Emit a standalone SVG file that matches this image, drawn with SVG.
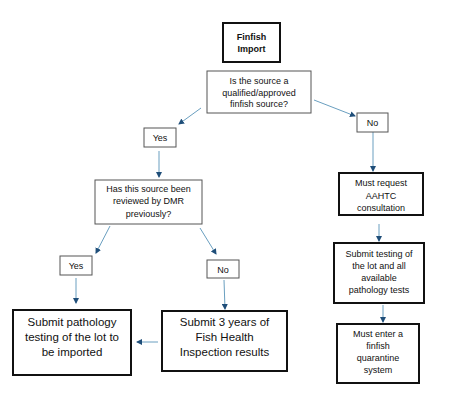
<svg xmlns="http://www.w3.org/2000/svg" width="450" height="413" viewBox="0 0 450 413">
<defs>
<marker id="ah" markerWidth="6" markerHeight="6" refX="5" refY="3" orient="auto" markerUnits="userSpaceOnUse">
<path d="M0,0 L6,3 L0,6 Z" fill="#1f4e79"/>
</marker>
<style>
.t{font-family:"Liberation Sans",Arial,sans-serif;fill:#111;text-anchor:middle}
.s{font-size:9px}
.b{font-size:11.5px}
.thin{fill:#fff;stroke:#555;stroke-width:1}
.thick{fill:#fff;stroke:#111;stroke-width:2}
.c{stroke:#6a9fc0;stroke-width:1;fill:none;marker-end:url(#ah)}
</style>
</defs>
<rect width="450" height="413" fill="#fff"/>
<g id="connectors">
<line class="c" x1="201" y1="108" x2="179" y2="124"/>
<line class="c" x1="314" y1="100" x2="355" y2="116"/>
<line class="c" x1="159" y1="151" x2="159" y2="177"/>
<line class="c" x1="110" y1="226" x2="96" y2="253"/>
<line class="c" x1="200" y1="228" x2="216" y2="254"/>
<line class="c" x1="76" y1="278" x2="76" y2="303"/>
<line class="c" x1="224" y1="280" x2="225" y2="309"/>
<line class="c" x1="158" y1="342" x2="137" y2="342"/>
<line class="c" x1="373" y1="132" x2="373" y2="171"/>
<line class="c" x1="379" y1="224" x2="379" y2="241"/>
<line class="c" x1="383" y1="305" x2="383" y2="322"/>
</g>
<g id="finfish-import">
<rect class="thick" x="223" y="23" width="57" height="39"/>
<text class="t s" font-weight="bold" x="251.5" y="40">Finfish</text>
<text class="t s" font-weight="bold" x="251.5" y="52">Import</text>
</g>
<g id="q1">
<rect class="thin" x="207" y="71" width="104" height="42"/>
<text class="t s" x="259" y="84">Is the source a</text>
<text class="t s" x="259" y="96">qualified/approved</text>
<text class="t s" x="259" y="107">finfish source?</text>
</g>
<g id="yes1">
<rect class="thin" x="144" y="128" width="32" height="19"/>
<text class="t s" x="160" y="141">Yes</text>
</g>
<g id="no1">
<rect class="thin" x="357" y="113" width="31" height="19"/>
<text class="t s" x="372.5" y="126">No</text>
</g>
<g id="q2">
<rect class="thin" x="95" y="180" width="107" height="44"/>
<text class="t s" x="148.5" y="192">Has this source been</text>
<text class="t s" x="148.5" y="204">reviewed by DMR</text>
<text class="t s" x="148.5" y="217">previously?</text>
</g>
<g id="yes2">
<rect class="thin" x="60" y="256" width="32" height="19"/>
<text class="t s" x="76" y="269">Yes</text>
</g>
<g id="no2">
<rect class="thin" x="207" y="260" width="32" height="18"/>
<text class="t s" x="223" y="272.5">No</text>
</g>
<g id="submit-pathology">
<rect class="thick" x="13" y="310" width="118" height="65"/>
<text class="t b" x="72" y="326">Submit pathology</text>
<text class="t b" x="72" y="341">testing of the lot to</text>
<text class="t b" x="72" y="356">be imported</text>
</g>
<g id="submit-3-years">
<rect class="thick" x="162" y="311" width="125" height="60"/>
<text class="t b" x="224.5" y="326">Submit 3 years of</text>
<text class="t b" x="224.5" y="341">Fish Health</text>
<text class="t b" x="224.5" y="356">Inspection results</text>
</g>
<g id="must-request">
<rect class="thick" x="339" y="173" width="84" height="42"/>
<text class="t s" x="381" y="186">Must request</text>
<text class="t s" x="381" y="199">AAHTC</text>
<text class="t s" x="381" y="211">consultation</text>
</g>
<g id="submit-testing">
<rect class="thick" x="334" y="243" width="90" height="60"/>
<text class="t s" x="379" y="257">Submit testing of</text>
<text class="t s" x="379" y="269">the lot and all</text>
<text class="t s" x="379" y="281">available</text>
<text class="t s" x="379" y="293">pathology tests</text>
</g>
<g id="must-enter">
<rect class="thick" x="337" y="324" width="82" height="59"/>
<text class="t s" x="378" y="337">Must enter a</text>
<text class="t s" x="378" y="349">finfish</text>
<text class="t s" x="378" y="361">quarantine</text>
<text class="t s" x="378" y="373">system</text>
</g>
</svg>
